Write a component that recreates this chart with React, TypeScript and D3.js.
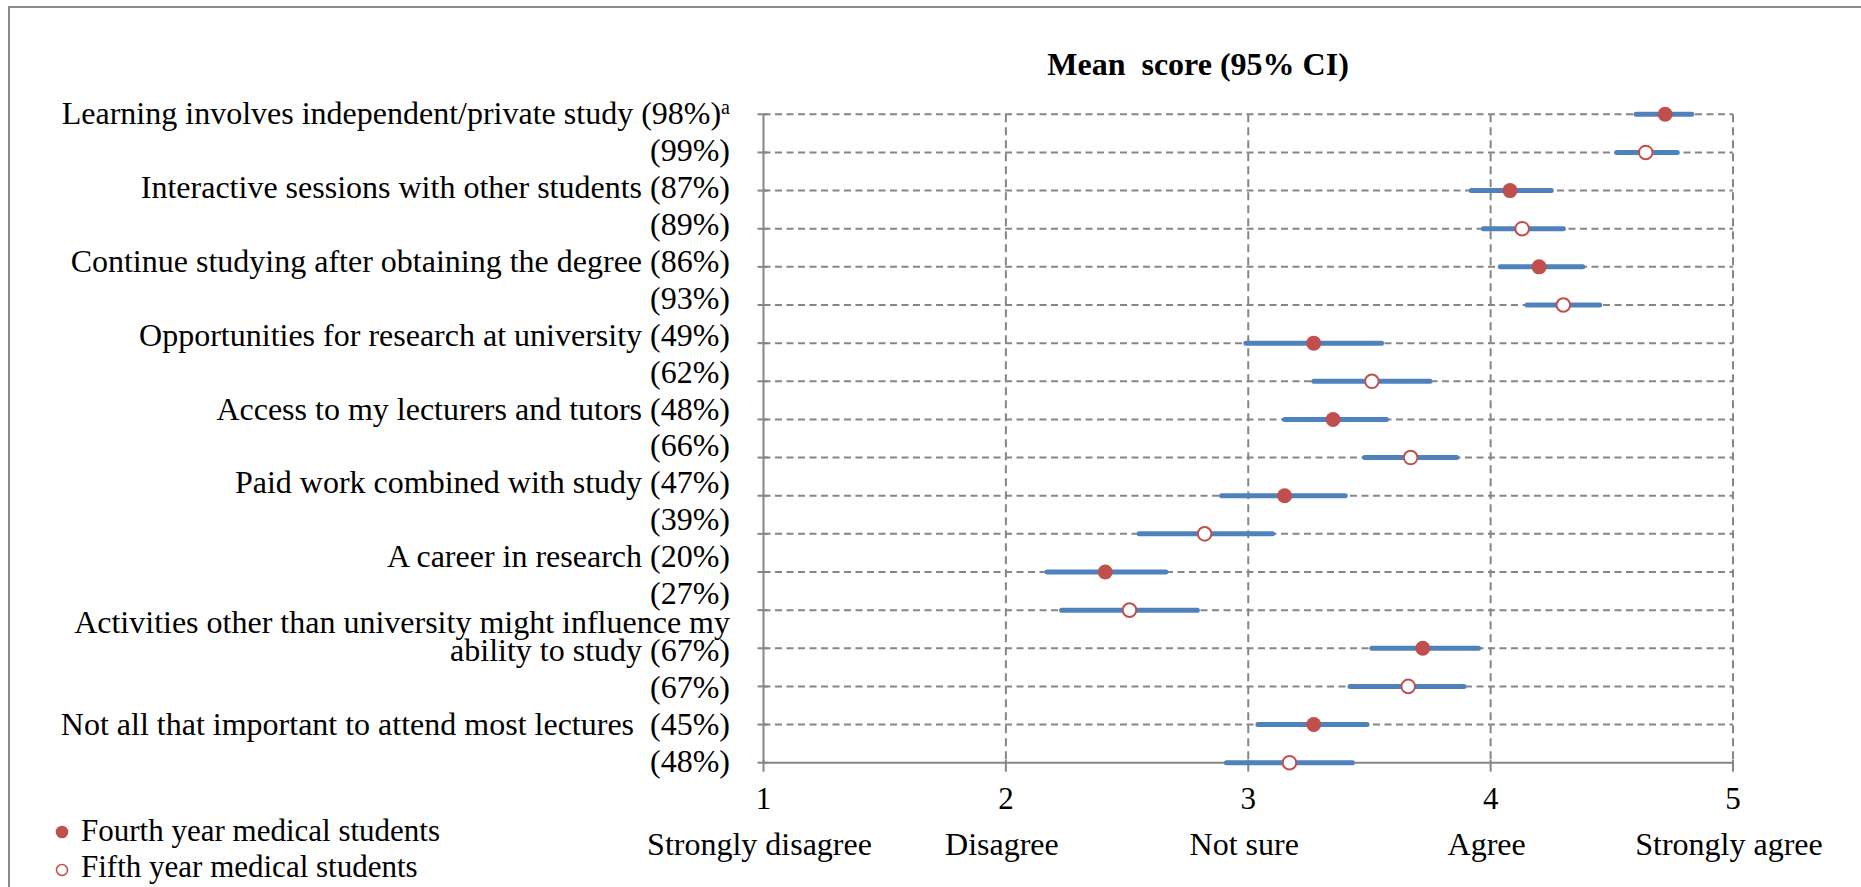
import React from "react";
import * as d3 from "d3";

const rowLabels: string[] = [
  "Learning involves independent/private study (98%)",
  "(99%)",
  "Interactive sessions with other students (87%)",
  "(89%)",
  "Continue studying after obtaining the degree (86%)",
  "(93%)",
  "Opportunities for research at university (49%)",
  "(62%)",
  "Access to my lecturers and tutors (48%)",
  "(66%)",
  "Paid work combined with study (47%)",
  "(39%)",
  "A career in research (20%)",
  "(27%)",
  "Activities other than university might influence my\nability to study (67%)",
  "(67%)",
  "Not all that important to attend most lectures  (45%)",
  "(48%)",
];
const rowNotes: string[] = ["a", "", "", "", "", "", "", "", "", "", "", "", "", "", "", "", "", ""];
const rowGroup: number[] = [0, 1, 0, 1, 0, 1, 0, 1, 0, 1, 0, 1, 0, 1, 0, 1, 0, 1];
const means: number[] = [4.72, 4.64, 4.08, 4.13, 4.2, 4.3, 3.27, 3.51, 3.35, 3.67, 3.15, 2.82, 2.41, 2.51, 3.72, 3.66, 3.27, 3.17];
const lower: number[] = [4.6, 4.52, 3.92, 3.97, 4.04, 4.15, 2.99, 3.27, 3.15, 3.48, 2.89, 2.55, 2.17, 2.23, 3.51, 3.42, 3.04, 2.91];
const upper: number[] = [4.83, 4.77, 4.25, 4.3, 4.38, 4.45, 3.55, 3.75, 3.57, 3.86, 3.4, 3.1, 2.66, 2.79, 3.95, 3.89, 3.49, 3.43];
const groups: string[] = ["Fourth year medical students", "Fifth year medical students"];
const xTicks: number[] = [1, 2, 3, 4, 5];
const xTickLabels: string[] = ["1", "2", "3", "4", "5"];
const scaleLabels: string[] = ["Strongly disagree", "Disagree", "Not sure", "Agree", "Strongly agree"];
const title = "Mean  score (95% CI)";

const W = 1861;
const H = 887;
const FONT = "'Liberation Serif', 'Times New Roman', Times, serif";
const FS = 32;
const RED = "#C0504D";
const BLUE = "#4F81BD";
const GRAY = "#868686";
const PARA = 36.9; // paragraph pitch of the label text block
const LINE = 28.5; // line pitch inside a wrapped label

export default function App() {
  const x = d3.scaleLinear().domain([1, 5]).range([763.5, 1733]);
  const y = d3.scalePoint<number>().domain(d3.range(rowLabels.length)).range([114.3, 762.7]);
  const last = rowLabels.length - 1;
  const yTop = y(0)!;
  const yBot = y(last)!;

  // label text block layout (flows as paragraphs, independent of row lines)
  const labelLines: { text: string; base: number; note: string }[] = [];
  let base = y(0)! + 10;
  rowLabels.forEach((lab, i) => {
    const lines = lab.split("\n");
    if (i > 0) base += lines.length > 1 ? LINE : PARA;
    lines.forEach((ln, k) => {
      if (k > 0) base += LINE;
      labelLines.push({ text: ln, base, note: k === lines.length - 1 ? rowNotes[i] : "" });
    });
  });

  return (
    <svg
      width={W}
      height={H}
      style={{ position: "absolute", left: 0, top: 0, background: "#fff" }}
      fontFamily={FONT}
    >
      <rect x={0} y={0} width={W} height={H} fill="#fff" />
      {/* outer frame */}
      <rect x={9} y={7} width={W + 20} height={H + 20} fill="none" stroke="#8c8c8c" strokeWidth={2} />

      {/* title */}
      <text x={1198} y={75} textAnchor="middle" fontWeight="bold" fontSize={32} style={{ whiteSpace: "pre" }}>
        {title}
      </text>

      {/* horizontal dashed gridlines */}
      {rowLabels.map((_, i) =>
        i === last ? null : (
          <line
            key={"h" + i}
            x1={x(1)}
            x2={x(5)}
            y1={y(i)}
            y2={y(i)}
            stroke={GRAY}
            strokeWidth={2}
            strokeDasharray="7,4.5"
          />
        )
      )}
      {/* vertical dashed gridlines */}
      {xTicks.slice(1).map((t) => (
        <line
          key={"v" + t}
          x1={x(t)}
          x2={x(t)}
          y1={yTop}
          y2={yBot}
          stroke={GRAY}
          strokeWidth={2}
          strokeDasharray="8,5"
        />
      ))}

      {/* y axis */}
      <line x1={x(1)} x2={x(1)} y1={yTop} y2={yBot} stroke={GRAY} strokeWidth={2} />
      {rowLabels.map((_, i) => (
        <line key={"yt" + i} x1={x(1) - 6} x2={x(1) + 4} y1={y(i)} y2={y(i)} stroke={GRAY} strokeWidth={2} />
      ))}
      {/* x axis */}
      <line x1={x(1)} x2={x(5)} y1={yBot} y2={yBot} stroke={GRAY} strokeWidth={2} />
      {xTicks.map((t) => (
        <line key={"xt" + t} x1={x(t)} x2={x(t)} y1={yBot - 3} y2={yBot + 9} stroke={GRAY} strokeWidth={2} />
      ))}

      {/* x tick labels */}
      {xTicks.map((t, k) => (
        <text key={"xl" + t} x={x(t)} y={809} textAnchor="middle" fontSize={31}>
          {xTickLabels[k]}
        </text>
      ))}
      {xTicks.map((t, k) => (
        <text key={"sl" + t} x={x(t) - 4} y={855} textAnchor="middle" fontSize={FS}>
          {scaleLabels[k]}
        </text>
      ))}

      {/* row labels */}
      {labelLines.map((l, j) => (
        <text key={"rl" + j} x={730} y={l.base} textAnchor="end" fontSize={FS} style={{ whiteSpace: "pre" }}>
          {l.text}
          {l.note ? (
            <tspan fontSize={20} dy={-10}>
              {l.note}
            </tspan>
          ) : null}
        </text>
      ))}

      {/* CI bars */}
      {means.map((_, i) => (
        <line
          key={"ci" + i}
          x1={x(lower[i])}
          x2={x(upper[i])}
          y1={y(i)}
          y2={y(i)}
          stroke={BLUE}
          strokeWidth={5}
          strokeLinecap="round"
        />
      ))}
      {/* mean markers */}
      {means.map((m, i) =>
        rowGroup[i] === 0 ? (
          <circle key={"m" + i} cx={x(m)} cy={y(i)} r={7.5} fill={RED} />
        ) : (
          <circle key={"m" + i} cx={x(m)} cy={y(i)} r={6.8} fill="#fff" stroke={RED} strokeWidth={2} />
        )
      )}

      {/* legend */}
      {groups.map((g, k) => (
        <g key={"lg" + k}>
          {k === 0 ? (
            <circle cx={62} cy={832} r={6.3} fill={RED} />
          ) : (
            <circle cx={62} cy={870} r={5.5} fill="none" stroke={RED} strokeWidth={1.5} />
          )}
          <text x={81} y={k === 0 ? 841 : 877} fontSize={31}>
            {g}
          </text>
        </g>
      ))}
    </svg>
  );
}
